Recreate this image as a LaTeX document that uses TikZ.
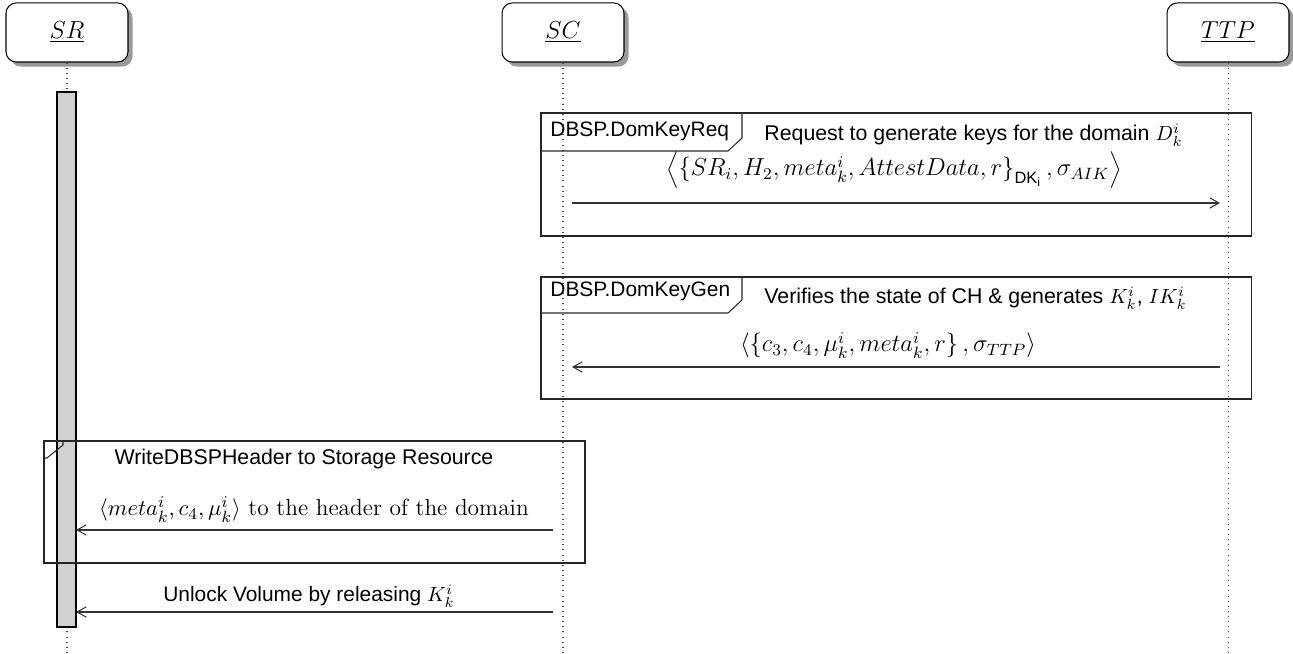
\documentclass[tikz,border=0pt]{standalone}
\usepackage{fontspec}
\setsansfont{Liberation Sans}
\usetikzlibrary{arrows.meta,shadows}
\begin{document}
\begin{tikzpicture}[x=0.4878pt,y=-0.4878pt,
  actor/.style={draw=black, line width=0.5pt, fill=white, rounded corners=5pt,
    minimum width=59.5pt, minimum height=28.8pt, inner sep=0pt,
    font=\fontsize{11.8}{14}\selectfont,
    drop shadow={shadow xshift=2.2pt, shadow yshift=-2.2pt, fill=black!40, opacity=1}},
  lifeline/.style={dotted, black!70, line width=0.5pt},
  actbar/.style={draw=black, fill=black!18, line width=0.5pt},
  frameline/.style={draw=black!85, line width=0.5pt},
  msg/.style={draw=black!80, line width=0.5pt, -{Straight Barb[length=4.5pt,width=5pt]}},
  lbl/.style={font=\fontsize{10.2}{12}\sffamily, inner sep=0pt, anchor=base west},
  ttl/.style={font=\fontsize{10.4}{12}\sffamily, inner sep=0pt, anchor=base west},
  txt/.style={inner sep=0pt, anchor=base, font=\fontsize{11.4}{13}\selectfont},
  btxt/.style={inner sep=0pt, anchor=base, font=\fontsize{12}{14}\selectfont},
  stxt/.style={inner sep=0pt, anchor=base, font=\fontsize{10.2}{12}\sffamily}
]
\useasboundingbox (0,0) rectangle (1293,654);

% lifeline ends
\coordinate (SRe) at (67,654);
\coordinate (SCe) at (563,654);
\coordinate (TTPe) at (1228,654);

% actors
\node[actor] (SR) at (67,32.5) {\underline{$SR$}};
\node[actor] (SC) at (563,32.5) {\underline{$SC$}};
\node[actor] (TTP) at (1228,32.5) {\underline{$TTP$}};

% lifelines
\draw[lifeline] (SR.south) -- (SRe);
\draw[lifeline] (SC.south) -- (SCe);
\draw[lifeline] (TTP.south) -- (TTPe);

% activation bar of SR
\draw[actbar] (57,92) rectangle (76,627);

% frame 1
\draw[frameline] (541,113) rectangle (1251,236);
\draw[frameline] (541,151) -- (728,151) -- (742,138) -- (742,113);
\node[lbl] (f1lab) at (550,137) {DBSP.DomKeyReq};
\node[ttl] (f1title) at (764,141) {Request to generate keys for the domain $D_k^i$};
\coordinate (m1s) at (572,203);
\coordinate (m1e) at (1220,203);
\node[btxt] (m1lab) at (894,176) {$\left\langle \left\{SR_i, H_2, meta_k^i, AttestData, r\right\}_{\mathsf{DK_i}}, \sigma_{AIK}\right\rangle$};
\draw[msg] (m1s) -- (m1e);

% frame 2
\draw[frameline] (541,277) rectangle (1251,399);
\draw[frameline] (541,313) -- (728,313) -- (742,300) -- (742,277);
\node[lbl] (f2lab) at (550,297) {DBSP.DomKeyGen};
\node[ttl] (f2title) at (764,304) {Verifies the state of CH \& generates $K_k^i$, $IK_k^i$};
\coordinate (m2s) at (1220,367);
\coordinate (m2e) at (572,367);
\node[btxt] (m2lab) at (888,352) {$\langle\{c_3, c_4, \mu_k^i, meta_k^i, r\}\,, \sigma_{TTP}\rangle$};
\draw[msg] (m2s) -- (m2e);

% frame 3
\draw[frameline] (44,441) rectangle (585,563);
\draw[frameline] (44,458) -- (47,458) -- (63,445) -- (63,441);
\node[stxt, font=\fontsize{10.4}{12}\sffamily] (f3title) at (304,465) {WriteDBSPHeader to Storage Resource};
\coordinate (m3s) at (553,530);
\coordinate (m3e) at (76,530);
\node[txt] (m3lab) at (314,516) {$\langle meta_k^i, c_4, \mu_k^i\rangle$ to the header of the domain};
\draw[msg] (m3s) -- (m3e);

% unlock message
\coordinate (m4s) at (553,612);
\coordinate (m4e) at (76,612);
\node[stxt] (m4lab) at (309,602) {Unlock Volume by releasing $K_k^i$};
\draw[msg] (m4s) -- (m4e);
\end{tikzpicture}
\end{document}
